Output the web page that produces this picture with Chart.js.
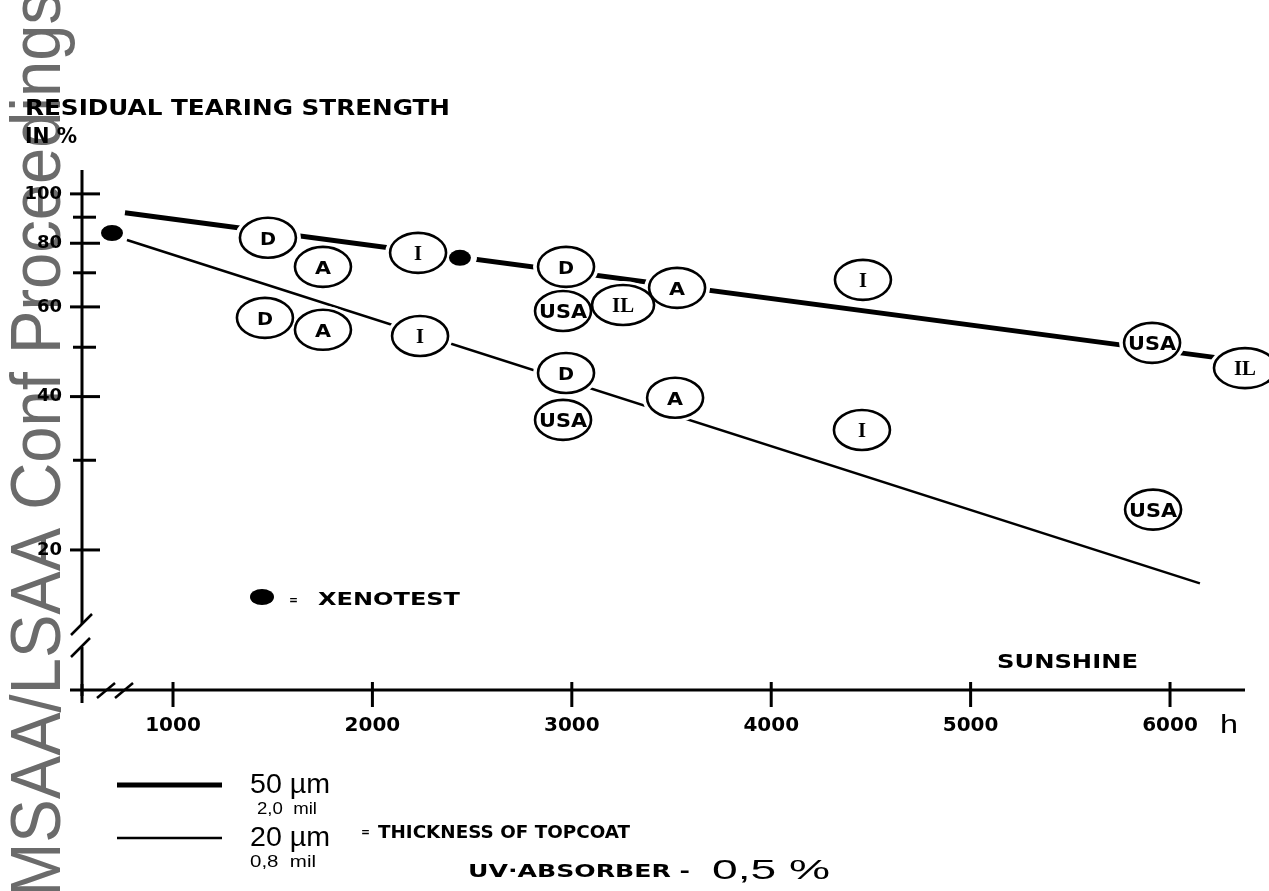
<!DOCTYPE html>
<html>
<head>
<meta charset="utf-8">
<script src="https://cdn.jsdelivr.net/npm/chart.js@4.4.0/dist/chart.umd.min.js"></script>
<style>
  html, body { margin: 0; padding: 0; background: #fff; }
  #wrap { width: 1269px; height: 891px; position: relative; }
</style>
</head>
<body>
<div id="wrap"><canvas id="tearChart"></canvas></div>
<script>
// axis ticks
var hourTicks = [1000, 2000, 3000, 4000, 5000, 6000];
var strengthTicks = [20, 30, 40, 50, 60, 70, 80, 90, 100];
var strengthLabels = [20, 40, 60, 80, 100];

// fitted lines (hours, % strength)
var thickLineHours = [759, 6251];
var thickLineValues = [91.8, 47.6];
var thinLineHours = [769, 6150];
var thinLineValues = [81.2, 17.2];

// 50 um topcoat, outdoor sites
var thickCodes = ['D', 'A', 'I', 'D', 'USA', 'IL', 'A', 'I', 'USA', 'IL'];
var thickHours = [1476, 1752, 2229, 2971, 2956, 3257, 3528, 4460, 5910, 6376];
var thickValues = [82.0, 71.9, 76.6, 71.9, 58.9, 60.5, 65.4, 67.8, 51.0, 45.5];

// 20 um topcoat, outdoor sites
var thinCodes = ['D', 'A', 'I', 'D', 'USA', 'A', 'I', 'USA'];
var thinHours = [1461, 1752, 2239, 2971, 2956, 3518, 4455, 5915];
var thinValues = [57.1, 54.1, 52.6, 44.5, 36.0, 39.8, 34.4, 24.0];

// xenotest points
var xenoHours = [694, 2439];
var xenoValues = [83.8, 74.9];

function pts(xs, ys) {
  return xs.map(function(x, i) { return {x: x, y: ys[i]}; });
}

function fitText(ctx, text, x, y, width, font) {
  ctx.save();
  ctx.font = font;
  ctx.textAlign = 'left';
  ctx.textBaseline = 'alphabetic';
  var w = ctx.measureText(text).width;
  ctx.translate(x, y);
  ctx.scale(width / w, 1);
  ctx.fillText(text, 0, 0);
  ctx.restore();
}

function line(ctx, x1, y1, x2, y2, lw) {
  ctx.lineWidth = lw;
  ctx.beginPath();
  ctx.moveTo(x1, y1);
  ctx.lineTo(x2, y2);
  ctx.stroke();
}

// grey stamp down the left edge + all the loose lettering of the scan
var scanText = {
  id: 'scanText',
  beforeDraw: function(chart) {
    var ctx = chart.ctx;
    ctx.save();
    ctx.fillStyle = '#6b6b6b';
    ctx.font = '70px "Liberation Sans", Arial, sans-serif';
    var t = 'MSAA/LSAA Conf Proceedings';
    var w = ctx.measureText(t).width;
    ctx.translate(60, 897);
    ctx.rotate(-Math.PI / 2);
    ctx.scale(905 / w, 1);
    ctx.fillText(t, 0, 0);
    ctx.restore();
  },
  afterDraw: function(chart) {
    var ctx = chart.ctx;
    var bold = function(px) { return 'bold ' + px + 'px "DejaVu Sans", sans-serif'; };
    var plain = function(px) { return px + 'px "Liberation Sans", Arial, sans-serif'; };
    ctx.save();
    ctx.fillStyle = '#000';
    ctx.strokeStyle = '#000';

    fitText(ctx, 'RESIDUAL TEARING STRENGTH', 25, 115, 425, bold(21));
    fitText(ctx, 'IN %', 25, 143, 52, bold(21));
    fitText(ctx, 'SUNSHINE', 997, 668, 141, bold(19));
    fitText(ctx, 'h', 1220, 733, 18, plain(25));

    // xenotest key
    ctx.beginPath();
    ctx.ellipse(262, 597, 12, 8, 0, 0, Math.PI * 2);
    ctx.fill();
    fitText(ctx, '=', 289, 604, 9, bold(12));
    fitText(ctx, 'XENOTEST', 318, 605, 142, bold(18));

    // thickness key
    line(ctx, 117, 785, 222, 785, 5);
    fitText(ctx, '50 \u00b5m', 250, 793, 80, plain(27));
    fitText(ctx, '2,0  mil', 257, 814, 60, plain(16));
    line(ctx, 117, 838, 222, 838, 2.5);
    fitText(ctx, '20 \u00b5m', 250, 846, 80, plain(27));
    fitText(ctx, '0,8  mil', 250, 867, 66, plain(16));
    fitText(ctx, '=', 361, 836, 9, bold(12));
    fitText(ctx, 'THICKNESS OF TOPCOAT', 378, 838, 252, bold(18));
    fitText(ctx, 'UV\u00b7ABSORBER -', 468, 877, 222, bold(18));
    fitText(ctx, '0,5 %', 712, 879, 118, plain(28));
    ctx.restore();
  }
};

// hand-drawn style axes with ticks crossing the line and break marks
var axesDraw = {
  id: 'axesDraw',
  beforeDatasetsDraw: function(chart) {
    var ctx = chart.ctx, a = chart.chartArea;
    var xs = chart.scales.x, ys = chart.scales.y;
    ctx.save();
    ctx.strokeStyle = '#000';
    ctx.lineCap = 'butt';
    // y axis with break
    line(ctx, a.left, a.top, a.left, a.bottom - 66, 3);
    line(ctx, a.left, a.bottom - 43, a.left, a.bottom + 13, 3);
    line(ctx, a.left - 11, a.bottom - 55, a.left + 10, a.bottom - 76, 2.5);
    line(ctx, a.left - 11, a.bottom - 33, a.left + 8, a.bottom - 52, 2.5);
    ys.ticks.forEach(function(t) {
      var py = ys.getPixelForValue(t.value);
      var major = strengthLabels.indexOf(t.value) >= 0;
      line(ctx, a.left - (major ? 12 : 9), py, a.left + (major ? 18 : 14), py, 3);
    });
    // x axis with break
    line(ctx, a.left - 12, a.bottom, a.right, a.bottom, 3);
    line(ctx, a.left + 15, a.bottom + 8, a.left + 33, a.bottom - 7, 2.5);
    line(ctx, a.left + 33, a.bottom + 8, a.left + 51, a.bottom - 7, 2.5);
    line(ctx, a.left, a.bottom - 6, a.left, a.bottom + 6, 3);
    xs.ticks.forEach(function(t) {
      var px = xs.getPixelForValue(t.value);
      line(ctx, px, a.bottom - 8, px, a.bottom + 17, 3);
    });
    ctx.restore();
  }
};

// ringed site codes and xenotest dots
var siteRings = {
  id: 'siteRings',
  afterDatasetsDraw: function(chart) {
    var ctx = chart.ctx;
    var rings = [], dots = [];
    chart.data.datasets.forEach(function(ds, di) {
      var meta = chart.getDatasetMeta(di);
      if (ds.codes) {
        meta.data.forEach(function(el, i) { rings.push({x: el.x, y: el.y, code: ds.codes[i]}); });
      } else if (ds.xeno) {
        meta.data.forEach(function(el) { dots.push({x: el.x, y: el.y}); });
      }
    });
    ctx.save();
    ctx.fillStyle = '#fff';
    rings.forEach(function(r) {
      var rx = r.code === 'IL' ? 31 : 28;
      ctx.beginPath();
      ctx.ellipse(r.x, r.y, rx + 5, 24, 0, 0, Math.PI * 2);
      ctx.fill();
    });
    dots.forEach(function(d) {
      ctx.beginPath();
      ctx.ellipse(d.x, d.y, 17, 12, 0, 0, Math.PI * 2);
      ctx.fill();
    });
    ctx.fillStyle = '#000';
    dots.forEach(function(d) {
      ctx.beginPath();
      ctx.ellipse(d.x, d.y, 11, 8, 0, 0, Math.PI * 2);
      ctx.fill();
    });
    rings.forEach(function(r) {
      var rx = r.code === 'IL' ? 31 : 28;
      ctx.beginPath();
      ctx.ellipse(r.x, r.y, rx, 20, 0, 0, Math.PI * 2);
      ctx.fillStyle = '#fff';
      ctx.fill();
      ctx.lineWidth = 2.6;
      ctx.strokeStyle = '#000';
      ctx.stroke();
      ctx.fillStyle = '#000';
      ctx.textBaseline = 'alphabetic';
      if (r.code === 'USA') {
        fitText(ctx, 'USA', r.x - 24, r.y + 7, 48, 'bold 19px "DejaVu Sans", sans-serif');
      } else if (r.code === 'I') {
        fitText(ctx, 'I', r.x - 4, r.y + 7, 8, 'bold 20px "Liberation Serif", serif');
      } else if (r.code === 'IL') {
        fitText(ctx, 'IL', r.x - 11, r.y + 7, 22, 'bold 20px "Liberation Serif", serif');
      } else {
        fitText(ctx, r.code, r.x - 8, r.y + 7, 16, 'bold 18px "DejaVu Sans", sans-serif');
      }
    });
    ctx.restore();
  }
};

var ctx = document.getElementById('tearChart');
var tearChart = new Chart(ctx, {
  type: 'scatter',
  data: {
    datasets: [
      {
        label: '50 um sites',
        data: pts(thickHours, thickValues),
        codes: thickCodes,
        pointRadius: 0,
        pointHoverRadius: 0
      },
      {
        label: '20 um sites',
        data: pts(thinHours, thinValues),
        codes: thinCodes,
        pointRadius: 0,
        pointHoverRadius: 0
      },
      {
        label: 'Xenotest',
        data: pts(xenoHours, xenoValues),
        xeno: true,
        pointRadius: 0,
        pointHoverRadius: 0
      },
      {
        label: '50 um',
        data: pts(thickLineHours, thickLineValues),
        showLine: true,
        borderColor: '#000',
        borderWidth: 5,
        pointRadius: 0
      },
      {
        label: '20 um',
        data: pts(thinLineHours, thinLineValues),
        showLine: true,
        borderColor: '#000',
        borderWidth: 2.5,
        pointRadius: 0
      }
    ]
  },
  options: {
    responsive: true,
    maintainAspectRatio: false,
    animation: false,
    events: [],
    layout: {
      padding: {left: 0, top: 170, right: 24, bottom: 141}
    },
    plugins: {
      legend: {display: false},
      tooltip: {enabled: false}
    },
    scales: {
      x: {
        type: 'linear',
        position: 'bottom',
        min: 543.6,
        max: 6376,
        bounds: 'data',
        afterBuildTicks: function(scale) {
          scale.ticks = hourTicks.map(function(v) { return {value: v}; });
        },
        afterFit: function(scale) { scale.height = 60; },
        grid: {display: false, drawTicks: false},
        border: {display: false},
        ticks: {
          autoSkip: false,
          maxRotation: 0,
          padding: 24,
          color: '#000',
          font: {family: '"DejaVu Sans", sans-serif', size: 20, weight: 'bold'},
          callback: function(v) { return String(v); }
        }
      },
      y: {
        type: 'logarithmic',
        min: 10.62,
        max: 111.4,
        bounds: 'data',
        afterBuildTicks: function(scale) {
          scale.ticks = strengthTicks.map(function(v) { return {value: v}; });
        },
        afterFit: function(scale) { scale.width = 82; },
        grid: {display: false, drawTicks: false},
        border: {display: false},
        ticks: {
          autoSkip: false,
          padding: 20,
          color: '#000',
          font: {family: '"DejaVu Sans", sans-serif', size: 18, weight: 'bold'},
          callback: function(v) { return strengthLabels.indexOf(v) >= 0 ? String(v) : ''; }
        }
      }
    }
  },
  plugins: [scanText, axesDraw, siteRings]
});
</script>
</body>
</html>
